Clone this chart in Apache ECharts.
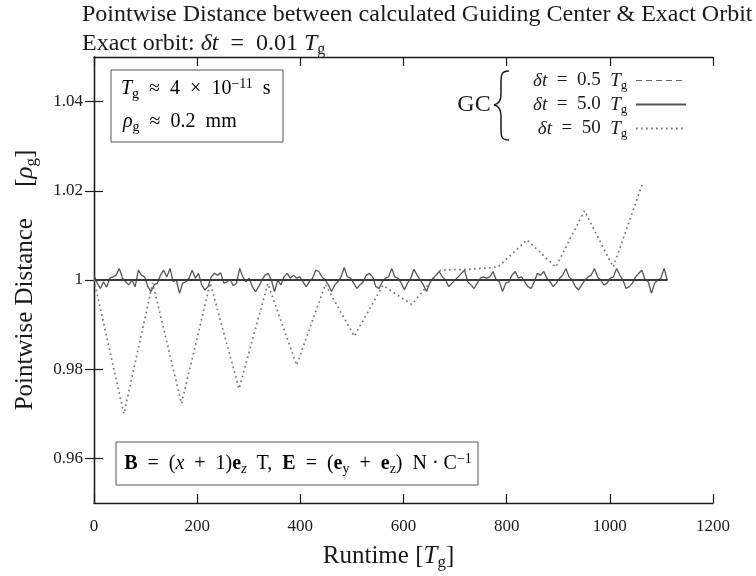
<!DOCTYPE html>
<html>
<head>
<meta charset="utf-8">
<script src="https://cdn.jsdelivr.net/npm/echarts@6/dist/echarts.min.js"></script>
<style>
  html, body { margin: 0; padding: 0; background: #fff; }
  #chart { width: 756px; height: 576px; }
</style>
</head>
<body>
<div id="chart"></div>
<script>
// Runtime axis (units of T_g) and distance axis (units of rho_g)
const X_MIN = 0, X_MAX = 1200, X_INTERVAL = 200;
const Y_MIN = 0.95, Y_MAX = 1.05;
const Y_TICKS = [0.96, 0.98, 1, 1.02, 1.04];
const Y_TICK_LABELS = ['0.96', '0.98', '1', '1.02', '1.04'];

// GC with dt = 0.5 T_g: stays on the exact orbit distance
const GC05_T = [0, 100, 200, 300, 400, 500, 600, 700, 800, 900, 1000, 1112];
const GC05_V = [1.0000, 1.0000, 1.0000, 1.0000, 1.0000, 1.0000, 1.0000, 1.0000, 1.0000, 1.0000, 1.0000, 1.0000];

// GC with dt = 5.0 T_g: small jitter around 1, sampled every GC5_STEP
const GC5_STEP = 6.14;
const GC5_V = [
  1.0011, 0.9993, 0.9981, 0.9996, 0.9984, 1.0004, 1.0007, 1.0011, 1.0026, 1.0004,
  0.9996, 0.9989, 1.0000, 0.9985, 1.0022, 1.0011, 1.0007, 0.9985, 0.9974, 0.9989,
  0.9993, 1.0011, 1.0022, 1.0007, 1.0026, 0.9996, 1.0000, 0.9970, 0.9993, 0.9996,
  1.0004, 1.0022, 1.0004, 1.0015, 0.9989, 0.9978, 0.9985, 1.0007, 1.0015, 1.0011,
  1.0016, 0.9993, 0.9996, 1.0001, 0.9987, 0.9993, 1.0026, 1.0007, 0.9996, 1.0004,
  0.9985, 0.9974, 0.9985, 1.0000, 1.0011, 1.0015, 1.0000, 0.9974, 1.0000, 0.9989,
  1.0007, 1.0015, 1.0004,
  1.0011, 1.0004, 1.0007, 0.9996, 0.9985, 0.9996, 1.0004, 1.0022, 1.0019, 1.0007,
  1.0000, 0.9989, 0.9974, 0.9989, 0.9996, 1.0007, 1.0028, 1.0007, 1.0004, 0.9993,
  0.9981, 0.9989, 0.9996, 1.0011, 1.0015, 1.0007, 0.9985, 0.9981, 0.9996, 1.0004,
  1.0007, 1.0026, 1.0007, 1.0004, 0.9993, 0.9978, 0.9993, 1.0004, 1.0024, 1.0011,
  1.0000, 0.9989, 0.9974, 0.9993, 1.0004, 1.0011, 1.0019, 1.0007, 1.0000, 0.9985,
  0.9993, 1.0000, 1.0007, 1.0015, 1.0022, 0.9996, 0.9989, 0.9981, 0.9993, 1.0004,
  1.0007,
  1.0004, 1.0007, 1.0019, 1.0000, 0.9996, 0.9974, 0.9993, 0.9996, 1.0011, 1.0019,
  1.0004, 1.0007, 0.9996, 0.9985, 0.9981, 0.9996, 1.0015, 1.0011, 1.0019, 1.0004,
  0.9996, 0.9985, 0.9993, 1.0004, 1.0011, 1.0026, 1.0007, 1.0000, 0.9985, 0.9978,
  0.9989, 1.0000, 1.0007, 1.0011, 1.0026, 1.0007, 1.0000, 0.9989, 0.9993, 1.0004,
  1.0007, 1.0026, 1.0011, 1.0000, 0.9981, 0.9985, 0.9993, 1.0007, 1.0015, 1.0022,
  1.0000, 0.9996, 0.9970, 0.9993, 1.0000, 1.0004, 1.0026, 1.0000
];

// GC with dt = 50 T_g: large alternating error
const GC50_T = [0, 58, 113.8, 169.6, 225.4, 281.2, 337, 392.8, 448.6, 504.4,
                560.2, 616, 671.8, 727.6, 783.4, 839.2, 895, 950.8, 1006.6, 1062.4];
const GC50_V = [1.0000, 0.9700, 0.9993, 0.9723, 0.9993, 0.9756, 0.9992, 0.9809, 0.9990, 0.9874,
                0.9988, 0.9945, 1.0022, 1.0024, 1.0029, 1.0090, 1.0029, 1.0155, 1.0029, 1.0213];

const SERIES_NAMES = ['dt = 0.5 Tg', 'dt = 5.0 Tg', 'dt = 50 Tg'];
const SP = '\u2002';
const LEGEND_LABELS = {
  'dt = 0.5 Tg': '{i|δt}{n|' + SP + '=' + SP + '0.5' + SP + '}{i|T}{s|g}{n|\u2009}',
  'dt = 5.0 Tg': '{i|δt}{n|' + SP + '=' + SP + '5.0' + SP + '}{i|T}{s|g}{n|\u2009}',
  'dt = 50 Tg':  '{i|δt}{n|' + SP + '=' + SP + '50' + SP + '}{i|T}{s|g}{n|\u2009}'
};

const SERIF = '"Liberation Serif", "DejaVu Serif", serif';
const INK = '#1a1a1a';
const C_GC05 = '#3a3a3a', C_GC5 = '#555', C_GC50 = '#777';

function richSet(size) {
  const sub = Math.round(size * 0.68);
  return {
    n: { fontFamily: SERIF, fontSize: size, color: INK, lineHeight: size + 4 },
    i: { fontFamily: SERIF, fontSize: size, fontStyle: 'italic', color: INK, lineHeight: size + 4 },
    b: { fontFamily: SERIF, fontSize: size, fontWeight: 'bold', color: INK, lineHeight: size + 4 },
    s: { fontFamily: SERIF, fontSize: sub, color: INK, lineHeight: sub, verticalAlign: 'bottom' },
    si: { fontFamily: SERIF, fontSize: sub, fontStyle: 'italic', color: INK, lineHeight: sub, verticalAlign: 'bottom' },
    p: { fontFamily: SERIF, fontSize: sub, color: INK, lineHeight: sub, verticalAlign: 'top' }
  };
}

const pairs = (xs, ys) => xs.map((x, k) => [x, ys[k]]);
const gc5Data = GC5_V.map((v, k) => [k * GC5_STEP, v]);

function yLabel(v) {
  for (let k = 0; k < Y_TICKS.length; k++) {
    if (Math.abs(Y_TICKS[k] - v) < 1e-9) return Y_TICK_LABELS[k];
  }
  return '';
}

const axisLineStyle = { color: INK, width: 1.3 };
const tickStyle = { show: true, inside: true, length: 9, lineStyle: { color: INK, width: 1.2 } };

// Curly brace grouping the legend entries under "GC"
function braceSegments(stroke) {
  const st = { fill: 'none', stroke: stroke, lineWidth: 1.5 };
  return [
    { type: 'bezierCurve', shape: { x1: 509, y1: 71, cpx1: 501, cpy1: 71, cpx2: 501, cpy2: 75, x2: 501, y2: 83 }, style: st },
    { type: 'line', shape: { x1: 501, y1: 83, x2: 501, y2: 94 }, style: st },
    { type: 'bezierCurve', shape: { x1: 501, y1: 94, cpx1: 501, cpy1: 101, cpx2: 499, cpy2: 104, x2: 494, y2: 105 }, style: st },
    { type: 'bezierCurve', shape: { x1: 494, y1: 105, cpx1: 499, cpy1: 106, cpx2: 501, cpy2: 109, x2: 501, y2: 116 }, style: st },
    { type: 'line', shape: { x1: 501, y1: 116, x2: 501, y2: 128 }, style: st },
    { type: 'bezierCurve', shape: { x1: 501, y1: 128, cpx1: 501, cpy1: 136, cpx2: 501, cpy2: 140, x2: 509, y2: 140 }, style: st }
  ];
}

const chart = echarts.init(document.getElementById('chart'), null, { renderer: 'canvas' });

chart.setOption({
  backgroundColor: '#fff',
  animation: false,
  title: {
    left: 82, top: 3, itemGap: 3, padding: 0,
    text: 'Pointwise Distance between calculated Guiding Center & Exact Orbit',
    textStyle: { fontFamily: SERIF, fontSize: 24, fontWeight: 'normal', color: INK },
    subtext: '{n|Exact orbit: }{i|δt}{n|' + SP + '=' + SP + '0.01 }{i|T}{s|g}',
    subtextStyle: { fontFamily: SERIF, fontSize: 24, color: INK, rich: richSet(24) }
  },
  grid: { left: 94, right: 43, top: 57, bottom: 73, containLabel: false },
  legend: {
    orient: 'vertical', right: 64, top: 66, align: 'right',
    itemWidth: 50, itemHeight: 12, itemGap: 3,
    itemStyle: { opacity: 0 },
    data: [
      { name: SERIES_NAMES[0], lineStyle: { type: [6, 4], width: 1.2, color: '#666' } },
      { name: SERIES_NAMES[1] },
      { name: SERIES_NAMES[2] }
    ],
    formatter: name => LEGEND_LABELS[name],
    textStyle: { fontFamily: SERIF, fontSize: 19, color: INK, rich: richSet(19) },
    selectedMode: false
  },
  xAxis: [
    {
      type: 'value', min: X_MIN, max: X_MAX, interval: X_INTERVAL, position: 'bottom',
      axisLine: { show: true, lineStyle: axisLineStyle },
      axisTick: tickStyle,
      splitLine: { show: false },
      axisLabel: { fontFamily: SERIF, fontSize: 17, color: INK, margin: 15, formatter: v => String(v) },
      name: '{n|Runtime [}{i|T}{s|g}{n|]}',
      nameLocation: 'middle', nameGap: 39,
      nameTextStyle: { fontFamily: SERIF, fontSize: 25, color: INK, rich: richSet(25), padding: [0, 30, 0, 0] }
    },
    {
      type: 'value', min: X_MIN, max: X_MAX, interval: X_INTERVAL, position: 'top',
      axisLine: { show: true, lineStyle: axisLineStyle },
      axisTick: tickStyle,
      splitLine: { show: false },
      axisLabel: { show: false }
    }
  ],
  yAxis: [
    {
      type: 'value', min: Y_MIN, max: Y_MAX, position: 'left',
      axisLine: { show: true, lineStyle: axisLineStyle },
      axisTick: Object.assign({ customValues: Y_TICKS }, tickStyle),
      splitLine: { show: false },
      axisLabel: { customValues: Y_TICKS, formatter: yLabel, fontFamily: SERIF, fontSize: 17, color: INK, margin: 11 },
      name: '{n|Pointwise Distance\u2003 [}{i|ρ}{s|g}{n|]}',
      nameLocation: 'middle', nameGap: 54, nameRotate: 90,
      nameTextStyle: { fontFamily: SERIF, fontSize: 25, color: INK, rich: richSet(25) }
    },
    {
      type: 'value', min: Y_MIN, max: Y_MAX, position: 'right',
      axisLine: { show: true, lineStyle: axisLineStyle },
      axisTick: Object.assign({ customValues: Y_TICKS }, tickStyle),
      splitLine: { show: false },
      axisLabel: { show: false }
    }
  ],
  series: [
    {
      name: SERIES_NAMES[1], type: 'line', data: gc5Data, symbol: 'none', z: 2,
      itemStyle: { color: C_GC5 }, lineStyle: { color: C_GC5, width: 1.3 }
    },
    {
      name: SERIES_NAMES[0], type: 'line', data: pairs(GC05_T, GC05_V), symbol: 'none', z: 3,
      itemStyle: { color: C_GC05 }, lineStyle: { color: C_GC05, width: 2 }
    },
    {
      name: SERIES_NAMES[2], type: 'line', data: pairs(GC50_T, GC50_V), symbol: 'none', z: 4,
      itemStyle: { color: C_GC50 }, lineStyle: { color: C_GC50, width: 1.7, type: [1.7, 3.3] }
    }
  ],
  graphic: [
    // Gyro period / gyro radius box
    { type: 'rect', shape: { x: 111, y: 70, width: 172, height: 72 },
      style: { fill: 'none', stroke: '#555', lineWidth: 1 } },
    { type: 'text', x: 121, y: 89,
      style: { text: '{i|T}{s|g}{n|' + SP + '≈' + SP + '4' + SP + '×' + SP + '10}{p|−11}{n|' + SP + 's}',
               rich: richSet(20), verticalAlign: 'middle', align: 'left' } },
    { type: 'text', x: 123, y: 122,
      style: { text: '{i|ρ}{s|g}{n|' + SP + '≈' + SP + '0.2' + SP + 'mm}',
               rich: richSet(20), verticalAlign: 'middle', align: 'left' } },
    // Field configuration box
    { type: 'rect', shape: { x: 116, y: 442, width: 362, height: 43 },
      style: { fill: 'none', stroke: '#555', lineWidth: 1 } },
    { type: 'text', x: 298, y: 464,
      style: { text: '{b|B}{n|' + SP + '=' + SP + '(}{i|x}{n|' + SP + '+' + SP + '1)}{b|e}{si|z}{n|' + SP + 'T,' + SP + '}{b|E}{n|' + SP + '=' + SP + '(}{b|e}{s|y}{n|' + SP + '+' + SP + '}{b|e}{s|z}{n|)' + SP + 'N · C}{p|−1}',
               rich: richSet(20), verticalAlign: 'middle', align: 'center' } },
    // GC label and brace grouping the legend
    { type: 'text', x: 474, y: 105,
      style: { text: 'GC', fontFamily: SERIF, fontSize: 24, fill: INK, verticalAlign: 'middle', align: 'center' } }
  ].concat(braceSegments(INK))
});
</script>
</body>
</html>
